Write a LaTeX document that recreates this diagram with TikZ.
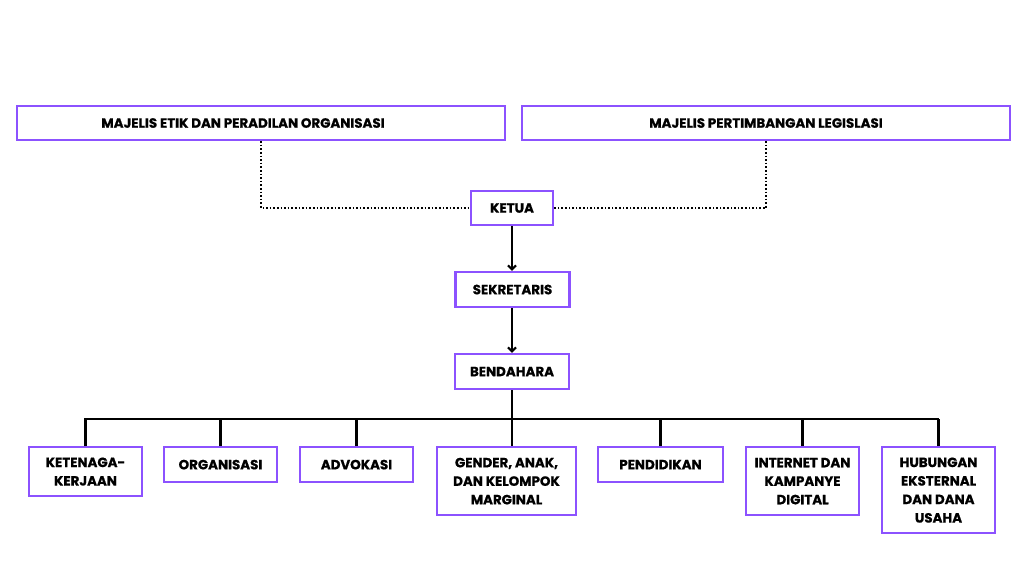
\documentclass[tikz,border=0pt]{standalone}
\usepackage{fontspec}
\setmainfont{Poppins}[BoldFeatures={FakeBold=0.8}]
\usetikzlibrary{arrows.meta}
\definecolor{boxpurple}{RGB}{140,82,255}

\begin{document}
\begin{tikzpicture}[x=1pt,y=-1pt,
    unit/.style={shape=rectangle,draw=boxpurple,line width=2.2pt,fill=white,
                 align=center,inner sep=2pt,
                 font=\fontsize{13.4}{18.5}\selectfont\bfseries},
    link/.style={draw=black,line width=2.2pt},
    tie/.style={draw=black,line width=1.6pt,dotted}]
    \useasboundingbox (0,0) rectangle (1024,576);
    \node[unit,minimum width=488pt,minimum height=34pt] (M) at (261,123) {MAJELIS ETIK DAN PERADILAN ORGANISASI\hspace*{36pt}};
    \node[unit,minimum width=488pt,minimum height=34pt] (L) at (766,123) {MAJELIS PERTIMBANGAN LEGISLASI};
    \node[unit,minimum width=82pt,minimum height=34pt] (K) at (512,208) {KETUA};
    \node[unit,minimum width=114pt,minimum height=35pt] (S) at (512.5,289.5) {SEKRETARIS};
    \node[unit,minimum width=114pt,minimum height=35pt] (E) at (512,371.5) {BENDAHARA};

    \node[unit,anchor=north,minimum width=113pt,minimum height=49pt] (D1) at (85.5,446) {KETENAGA-\\KERJAAN};
    \node[unit,anchor=north,minimum width=113pt,minimum height=35pt] (D2) at (220.5,446) {ORGANISASI};
    \node[unit,anchor=north,minimum width=113pt,minimum height=35pt] (D3) at (356.5,446) {ADVOKASI};
    \node[unit,anchor=north,minimum width=139pt,minimum height=68pt] (D4) at (506.5,446) {GENDER, ANAK,\\DAN KELOMPOK\\MARGINAL};
    \node[unit,anchor=north,minimum width=125pt,minimum height=35pt] (D5) at (660.5,446) {PENDIDIKAN};
    \node[unit,anchor=north,minimum width=113pt,minimum height=68pt] (D6) at (802.5,446) {INTERNET DAN\\KAMPANYE\\DIGITAL};
    \node[unit,anchor=north,minimum width=113pt,minimum height=86pt] (D7) at (938.5,446) {HUBUNGAN\\EKSTERNAL\\DAN DANA\\USAHA};
    \coordinate (bus) at (512,419);

    \draw [tie] (M.south) |- (K.west);
    \draw [tie] (L.south) |- (K.east);
    \draw [link,-{Straight Barb[length=4pt,width=8pt]}] (K.south) -- (K.south |- S.north);
    \draw [link,-{Straight Barb[length=4pt,width=8pt]}] (E.north |- S.south) -- (E.north);

    \draw [link] (E.south) -- (E.south |- D4.north);
    \draw [link] (D1.north) |- (D7.north |- bus);
    \foreach \d in {D2,D3,D5,D6,D7}
        \draw [link] (\d.north) -- (\d.north |- bus);
\end{tikzpicture}
\end{document}
